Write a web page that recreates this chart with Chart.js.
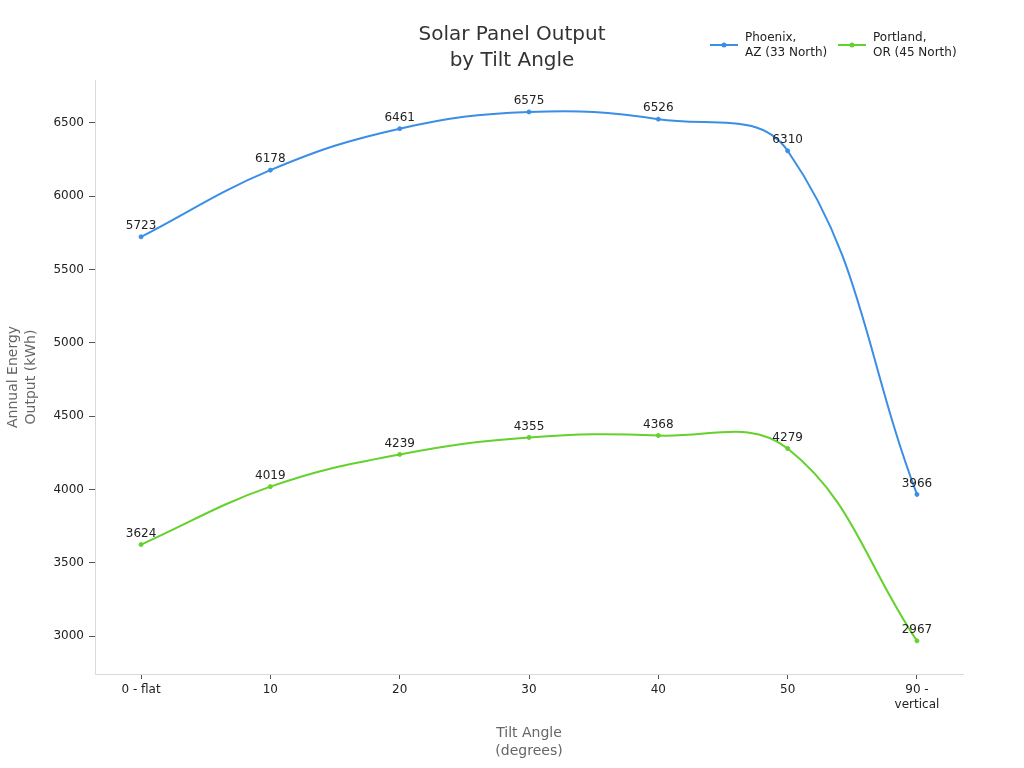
<!DOCTYPE html>
<html>
<head>
<meta charset="utf-8">
<script src="https://cdn.jsdelivr.net/npm/chart.js@4/dist/chart.umd.min.js"></script>
<style>
html,body{margin:0;padding:0;background:#fff;}
#wrap{width:1024px;height:768px;position:relative;}
</style>
</head>
<body>
<div id="wrap"><canvas id="c" width="1024" height="768"></canvas></div>
<script>
const categories = ['0 - flat', '10', '20', '30', '40', '50', '90 - vertical'];
const phoenix = [5723, 6178, 6461, 6575, 6526, 6310, 3966];
const portland = [3624, 4019, 4239, 4355, 4368, 4279, 2967];
const seriesNames = [['Phoenix,', 'AZ (33 North)'], ['Portland,', 'OR (45 North)']];
const yTicks = [3000, 3500, 4000, 4500, 5000, 5500, 6000, 6500];
const colors = ['#3a8ee6', '#64d12c'];
const FONT = 'DejaVu Sans';

const valueLabels = {
  id: 'valueLabels',
  afterDatasetsDraw(chart) {
    const ctx = chart.ctx;
    ctx.save();
    ctx.font = '12px "' + FONT + '"';
    ctx.fillStyle = '#222';
    ctx.textAlign = 'center';
    ctx.textBaseline = 'middle';
    chart.data.datasets.forEach((ds, i) => {
      const meta = chart.getDatasetMeta(i);
      meta.data.forEach((pt, j) => {
        ctx.fillText(String(ds.data[j].y), pt.x, pt.y - 11);
      });
    });
    ctx.restore();
  }
};

const customLegend = {
  id: 'customLegend',
  afterDraw(chart) {
    const ctx = chart.ctx;
    ctx.save();
    ctx.font = '12px "' + FONT + '"';
    ctx.textAlign = 'left';
    ctx.textBaseline = 'middle';
    const starts = [710, 838];
    seriesNames.forEach((name, i) => {
      const x = starts[i];
      ctx.strokeStyle = colors[i];
      ctx.lineWidth = 2;
      ctx.beginPath();
      ctx.moveTo(x, 45);
      ctx.lineTo(x + 28, 45);
      ctx.stroke();
      ctx.fillStyle = colors[i];
      ctx.beginPath();
      ctx.arc(x + 14, 45, 2.5, 0, Math.PI * 2);
      ctx.fill();
      ctx.fillStyle = '#222';
      ctx.fillText(name[0], x + 35, 38);
      ctx.fillText(name[1], x + 35, 53);
    });
    ctx.restore();
  }
};

const mk = (arr) => arr.map((v, i) => ({x: i, y: v}));

new Chart(document.getElementById('c'), {
  type: 'line',
  data: {
    datasets: [
      {label: seriesNames[0].join(' '), data: mk(phoenix), borderColor: colors[0], backgroundColor: colors[0],
       pointBackgroundColor: colors[0], pointBorderColor: colors[0], pointRadius: 2, pointBorderWidth: 1, borderWidth: 2, tension: 0.4},
      {label: seriesNames[1].join(' '), data: mk(portland), borderColor: colors[1], backgroundColor: colors[1],
       pointBackgroundColor: colors[1], pointBorderColor: colors[1], pointRadius: 2, pointBorderWidth: 1, borderWidth: 2, tension: 0.4}
    ]
  },
  options: {
    responsive: false,
    animation: false,
    layout: {padding: 0},
    plugins: {
      legend: {display: false},
      tooltip: {enabled: false},
      title: {
        display: true,
        text: ['Solar Panel Output', 'by Tilt Angle'],
        color: '#333',
        font: {family: FONT, size: 20, weight: 'normal', lineHeight: 1.3},
        padding: {top: 22, bottom: 6}
      }
    },
    scales: {
      x: {
        type: 'linear',
        min: -0.356,
        max: 6.356,
        afterBuildTicks: (s) => { s.ticks = categories.map((c, i) => ({value: i})); },
        afterFit: (s) => { s.height = 94; },
        ticks: {
          color: '#222',
          font: {family: FONT, size: 12},
          padding: 4,
          maxRotation: 0,
          autoSkip: false,
          callback: (v) => {
            const l = categories[v];
            return l === '90 - vertical' ? ['90 -', 'vertical'] : l;
          }
        },
        grid: {display: true, drawOnChartArea: false, drawTicks: true, tickLength: 5, tickColor: '#555'},
        border: {color: '#d9d9d9'},
        title: {
          display: true,
          text: ['Tilt Angle', '(degrees)'],
          color: '#666',
          font: {family: FONT, size: 14, lineHeight: 1.25},
          padding: {top: 0, bottom: 8}
        }
      },
      y: {
        min: 2741,
        max: 6793,
        afterBuildTicks: (s) => { s.ticks = yTicks.map(v => ({value: v})); },
        afterFit: (s) => { s.width = 95; },
        ticks: {color: '#222', font: {family: FONT, size: 12}, padding: 5, callback: (v) => String(v)},
        grid: {display: true, drawOnChartArea: false, drawTicks: true, tickLength: 6, tickColor: '#555'},
        border: {color: '#d9d9d9'},
        title: {
          display: true,
          text: ['Annual Energy', 'Output (kWh)'],
          color: '#666',
          font: {family: FONT, size: 14, lineHeight: 1.25},
          padding: {top: 5, bottom: 0}
        }
      },
      yRight: {
        position: 'right',
        display: true,
        afterFit: (s) => { s.width = 61; },
        ticks: {display: false},
        grid: {display: false, drawTicks: false},
        border: {display: false}
      }
    }
  },
  plugins: [valueLabels, customLegend]
});
</script>
</body>
</html>
